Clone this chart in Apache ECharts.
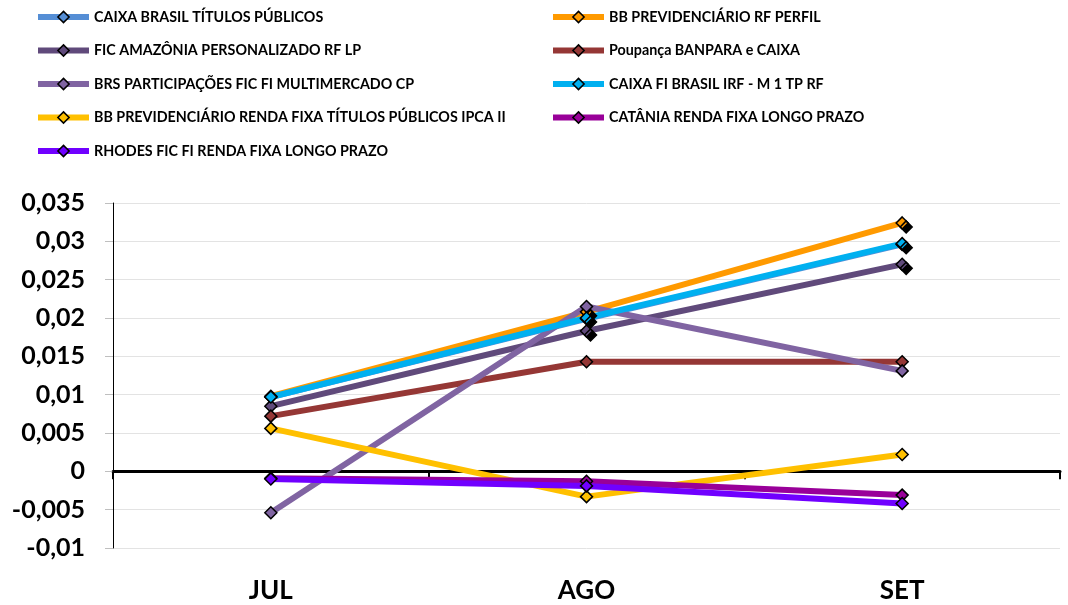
<!DOCTYPE html>
<html><head><meta charset="utf-8">
<script src="https://cdn.jsdelivr.net/npm/echarts@6/dist/echarts.min.js"></script>
<style>html,body{margin:0;padding:0;background:#fff}#c{width:1068px;height:605px}</style>
</head><body><div id="c"></div>
<script>
const categories = ['JUL', 'AGO', 'SET'];
const yTicks = { min: -0.01, max: 0.035, interval: 0.005 };

const caixaBrasil = [0.0097, 0.0199, 0.0296];
const bbPerfil = [0.0098, 0.0208, 0.0324];
const ficAmazonia = [0.0085, 0.0183, 0.0270];
const poupanca = [0.0072, 0.0143, 0.0143];
const brsParticipacoes = [-0.0054, 0.0215, 0.0131];
const caixaIrfM1 = [0.0097, 0.0200, 0.0297];
const bbIpca = [0.0056, -0.0033, 0.0022];
const catania = [-0.0009, -0.0013, -0.0031];
const rhodes = [-0.0010, -0.0019, -0.0042];

const seriesDefs = [
  { name: 'CAIXA BRASIL TÍTULOS PÚBLICOS', data: caixaBrasil, color: '#558ED5', shadow: false },
  { name: 'BB PREVIDENCIÁRIO RF PERFIL', data: bbPerfil, color: '#FF9A00', shadow: true },
  { name: 'FIC AMAZÔNIA PERSONALIZADO RF LP', data: ficAmazonia, color: '#604A7B', shadow: true },
  { name: 'Poupança BANPARA e CAIXA', data: poupanca, color: '#953735', shadow: false },
  { name: 'BRS PARTICIPAÇÕES FIC FI MULTIMERCADO CP', data: brsParticipacoes, color: '#8064A2', shadow: false },
  { name: 'CAIXA FI BRASIL IRF - M 1 TP RF', data: caixaIrfM1, color: '#00B0F0', shadow: true },
  { name: 'BB PREVIDENCIÁRIO RENDA FIXA TÍTULOS PÚBLICOS IPCA II', data: bbIpca, color: '#FFC000', shadow: false },
  { name: 'CATÂNIA RENDA FIXA LONGO PRAZO', data: catania, color: '#990099', shadow: false },
  { name: 'RHODES FIC FI RENDA FIXA LONGO PRAZO', data: rhodes, color: '#7000FF', shadow: false }
];

const FONT = 'Lato';
const chart = echarts.init(document.getElementById('c'), null, { renderer: 'canvas' });

const series = seriesDefs.map(s => ({
  name: s.name,
  type: 'line',
  xAxisIndex: 0,
  data: s.data.map((v, i) => (s.shadow && i > 0)
    ? { value: v, itemStyle: { shadowColor: '#000', shadowOffsetX: 4, shadowOffsetY: 4, shadowBlur: 0 } }
    : v),
  symbol: 'diamond',
  symbolSize: 12,
  showAllSymbol: true,
  lineStyle: { width: 6, color: s.color },
  itemStyle: { color: s.color, borderColor: '#000', borderWidth: 1.5 },
  emphasis: { disabled: true },
  animation: false
}));

const legendCommon = {
  orient: 'vertical',
  top: 10,
  padding: 0,
  itemWidth: 51,
  itemHeight: 14,
  itemGap: 19.5,
  lineStyle: { width: 6 },
  itemStyle: { borderColor: '#000', borderWidth: 1.5 },
  textStyle: { fontFamily: FONT, fontWeight: 'bold', fontSize: 14.3, color: '#000' },
  selectedMode: false
};

chart.setOption({
  animation: false,
  backgroundColor: '#fff',
  legend: [
    Object.assign({}, legendCommon, { left: 35, data: [seriesDefs[0].name, seriesDefs[2].name, seriesDefs[4].name, seriesDefs[6].name, seriesDefs[8].name] }),
    Object.assign({}, legendCommon, { left: 550, data: [seriesDefs[1].name, seriesDefs[3].name, seriesDefs[5].name, seriesDefs[7].name] })
  ],
  grid: { left: 113, right: 8, top: 203, bottom: 57 },
  xAxis: [
    {
      type: 'category', data: categories, boundaryGap: true,
      axisLine: { onZero: true, lineStyle: { color: '#000', width: 3 } },
      axisTick: { show: true, inside: false, length: 8, lineStyle: { color: '#000', width: 2 } },
      axisLabel: { show: false }
    },
    {
      type: 'category', data: categories, boundaryGap: true, position: 'bottom',
      axisLine: { show: false, onZero: false }, axisTick: { show: false },
      axisLabel: { margin: 30, fontFamily: FONT, fontWeight: 'bold', fontSize: 26, color: '#000' }
    }
  ],
  yAxis: {
    type: 'value', min: yTicks.min, max: yTicks.max, interval: yTicks.interval,
    axisLine: { show: true, onZero: false, lineStyle: { color: '#000', width: 1 } },
    axisTick: { show: true, length: 8, lineStyle: { color: '#bfbfbf' } },
    splitLine: { show: true, lineStyle: { color: '#e3e3e3', width: 1 } },
    axisLabel: {
      margin: 28, fontFamily: FONT, fontWeight: 'bold', fontSize: 25, color: '#000',
      formatter: v => String(parseFloat(v.toFixed(4))).replace('.', ',')
    }
  },
  series: series
});
</script></body></html>
